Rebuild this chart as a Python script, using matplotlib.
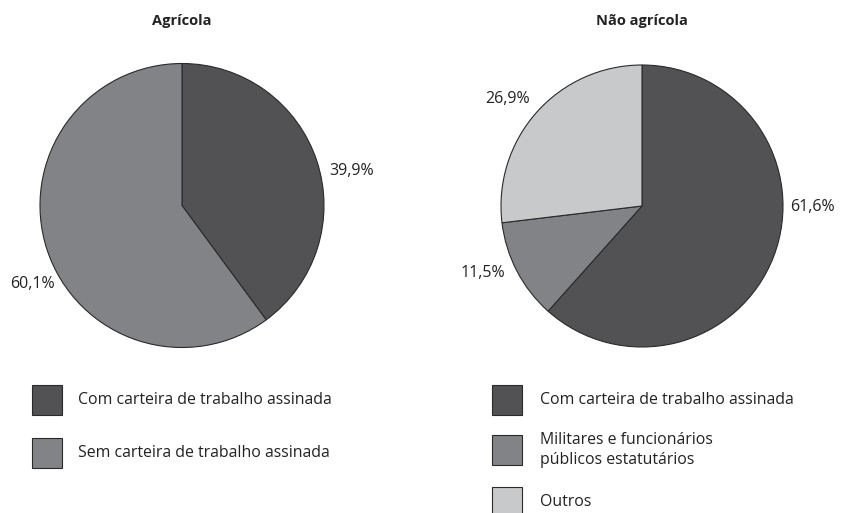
import matplotlib.pyplot as plt
from matplotlib.patches import Rectangle

plt.rcParams['font.family'] = ['Open Sans', 'DejaVu Sans']

# Dados
titulo_agr = 'Agrícola'
rotulos_agr = ['Com carteira de trabalho assinada', 'Sem carteira de trabalho assinada']
valores_agr = [39.9, 60.1]

titulo_nagr = 'Não agrícola'
rotulos_nagr = ['Com carteira de trabalho assinada',
                'Militares e funcionários\npúblicos estatutários',
                'Outros']
valores_nagr = [61.6, 11.5, 26.9]

cores_agr = ['#525254', '#828386']
cores_nagr = ['#525254', '#828386', '#c8c9cb']

W, H = 844, 513
fig = plt.figure(figsize=(W / 100, H / 100), dpi=100)


def px_axes(cx, cy, r):
    # eixo quadrado centrado em (cx, cy) em pixels, raio r
    return fig.add_axes([(cx - r) / W, 1 - (cy + r) / H, 2 * r / W, 2 * r / H])


def fmt(v):
    return f'{v:.1f}%'.replace('.', ',')


def pizza(ax, valores, cores, pos_rotulos):
    ax.pie(valores, colors=cores, startangle=90, counterclock=False,
           radius=1.0, wedgeprops=dict(edgecolor='#2a2a2a', linewidth=0.8))
    ax.set_xlim(-1, 1)
    ax.set_ylim(-1, 1)
    ax.set_aspect('equal')
    ax.axis('off')
    for v, (x, y) in zip(valores, pos_rotulos):
        fig.text(x / W, 1 - y / H, fmt(v), ha='center', va='center',
                 fontsize=11.5, color='#222222')


ax1 = px_axes(182, 205.5, 142)
pizza(ax1, valores_agr, cores_agr, [(352, 171), (32, 284)])
fig.text(182 / W, 1 - 21 / H, titulo_agr, ha='center', va='center',
         fontsize=10.5, fontweight='bold', color='#222222')

ax2 = px_axes(642, 206, 141)
pizza(ax2, valores_nagr, cores_nagr, [(812, 207), (483, 273), (508, 99)])
fig.text(642 / W, 1 - 21 / H, titulo_nagr, ha='center', va='center',
         fontsize=10.5, fontweight='bold', color='#222222')


def legenda(x0, ys, rotulos, cores, xt):
    for y, rot, cor in zip(ys, rotulos, cores):
        fig.patches.append(Rectangle((x0 / W, 1 - (y + 15) / H), 30 / W, 30 / H,
                                     transform=fig.transFigure, facecolor=cor,
                                     edgecolor='#2a2a2a', linewidth=0.8))
        fig.text(xt / W, 1 - y / H, rot, ha='left', va='center',
                 fontsize=11.4, color='#222222', linespacing=1.4)


legenda(32, [400, 453], rotulos_agr, cores_agr, 78)
legenda(492, [400, 450, 502], rotulos_nagr, cores_nagr, 540)

fig.savefig('out.png', dpi=100, facecolor='white')
